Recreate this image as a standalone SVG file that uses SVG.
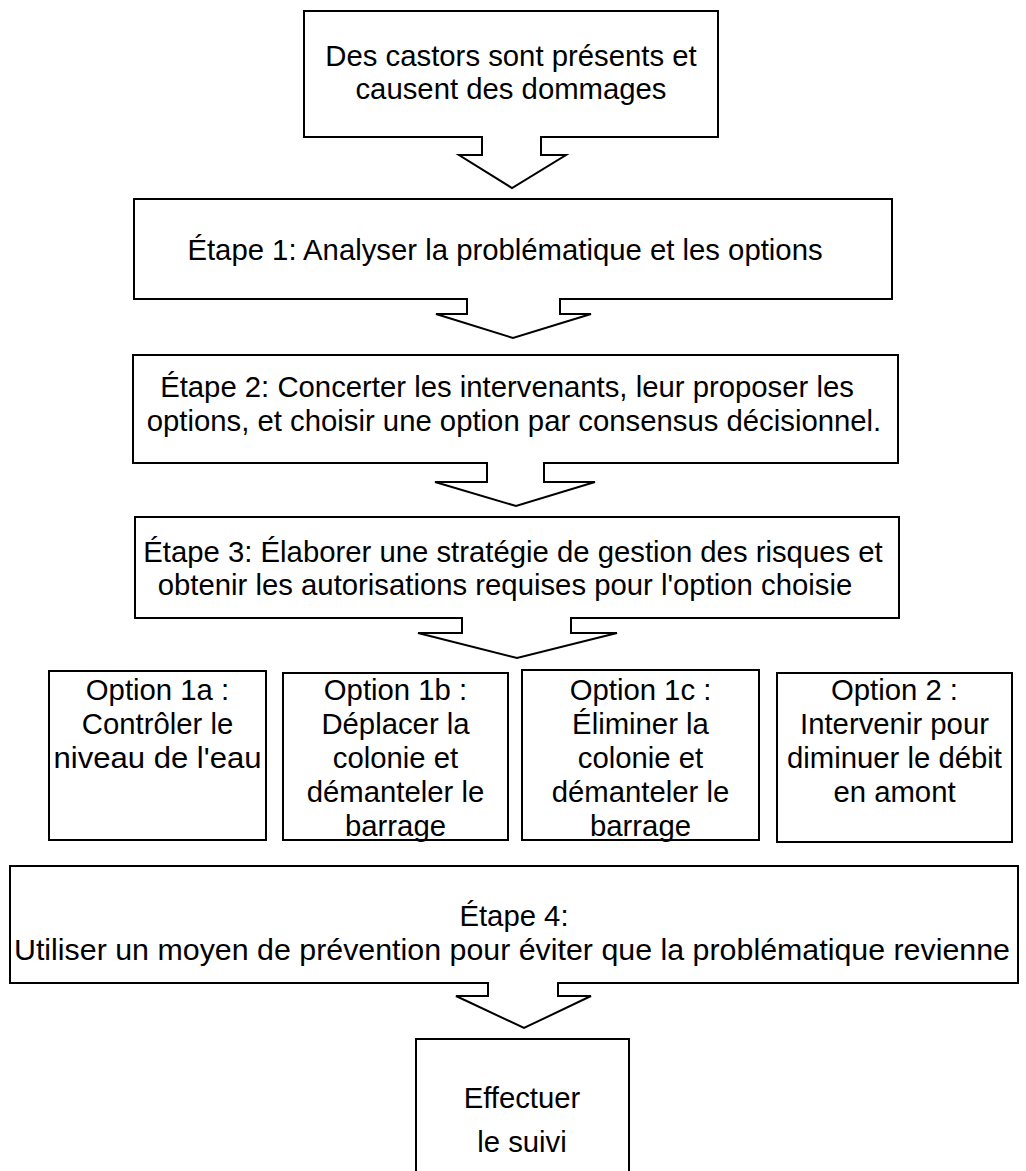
<svg xmlns="http://www.w3.org/2000/svg" width="1026" height="1171" viewBox="0 0 1026 1171">
<style>
.box{fill:#fff;stroke:#000;stroke-width:2}
.arr{fill:#fff;stroke:#000;stroke-width:2;stroke-linejoin:miter}
text{font-family:"Liberation Sans",Arial,sans-serif;font-size:29.3px;fill:#000;text-anchor:middle}
</style>
<rect width="1026" height="1171" fill="#fff"/>
<g id="n1"><rect class="box" x="304" y="11" width="414" height="126"/>
<text x="511" y="66">Des castors sont présents et</text>
<text x="511" y="99">causent des dommages</text></g>
<g id="n2"><rect class="box" x="134" y="199" width="758" height="100"/>
<text x="505" y="260">Étape 1: Analyser la problématique et les options</text></g>
<g id="n3"><rect class="box" x="133" y="355" width="765" height="108"/>
<text x="507" y="397">Étape 2: Concerter les intervenants, leur proposer les</text>
<text x="514" y="431">options, et choisir une option par consensus décisionnel.</text></g>
<g id="n4"><rect class="box" x="135" y="517" width="764" height="101"/>
<text x="513" y="562">Étape 3: Élaborer une stratégie de gestion des risques et</text>
<text x="505" y="595">obtenir les autorisations requises pour l'option choisie</text></g>
<g id="o1a"><rect class="box" x="49" y="671" width="217" height="169"/>
<text x="157.5" y="700">Option 1a :</text>
<text x="157.5" y="734">Contrôler le</text>
<text x="157.5" y="768" textLength="208" lengthAdjust="spacingAndGlyphs">niveau de l'eau</text></g>
<g id="o1b"><rect class="box" x="283" y="673" width="225" height="167"/>
<text x="395.5" y="700">Option 1b :</text>
<text x="395.5" y="734">Déplacer la</text>
<text x="395.5" y="768">colonie et</text>
<text x="395.5" y="802">démanteler le</text>
<text x="395.5" y="836">barrage</text></g>
<g id="o1c"><rect class="box" x="522" y="670" width="237" height="170"/>
<text x="640.5" y="700">Option 1c :</text>
<text x="640.5" y="734">Éliminer la</text>
<text x="640.5" y="768">colonie et</text>
<text x="640.5" y="802">démanteler le</text>
<text x="640.5" y="836">barrage</text></g>
<g id="o2"><rect class="box" x="777" y="673" width="235" height="169"/>
<text x="894.5" y="700">Option 2 :</text>
<text x="894.5" y="734">Intervenir pour</text>
<text x="894.5" y="768">diminuer le débit</text>
<text x="894.5" y="802">en amont</text></g>
<g id="n5"><rect class="box" x="10" y="866" width="1008" height="117"/>
<text x="514" y="926">Étape 4:</text>
<text x="512" y="960" textLength="996" lengthAdjust="spacingAndGlyphs">Utiliser un moyen de prévention pour éviter que la problématique revienne</text></g>
<g id="n6"><path class="box" d="M416,1175 V1039 H629 V1175"/>
<text x="522" y="1108">Effectuer</text>
<text x="522" y="1152">le suivi</text></g>
<g id="connectors">
<path class="arr" d="M482,136 V155 H459 L512,188 L566,155 H541 V136"/>
<path class="arr" d="M467,298 V314 H436 L513,338 L591,314 H560 V298"/>
<path class="arr" d="M487,462 V482 H435 L516,506 L595,482 H544 V462"/>
<path class="arr" d="M462,617 V633 H418 L517,658 L617,633 H571 V617"/>
<path class="arr" d="M488,982 V996 H456 L524,1028 L591,996 H558 V982"/>
</g>
</svg>
